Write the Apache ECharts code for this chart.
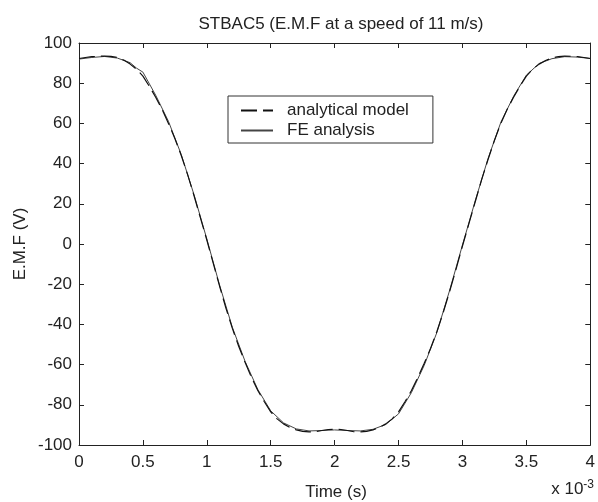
<!DOCTYPE html>
<html>
<head>
<meta charset="utf-8">
<script src="https://cdn.jsdelivr.net/npm/echarts@6/dist/echarts.min.js"></script>
<style>
html,body{margin:0;padding:0;background:#fff;}
#chart{width:598px;height:502px;}
</style>
</head>
<body>
<div id="chart"></div>
<script>
// Time in units of 1e-3 s
var timeA = [0,0.05,0.1,0.15,0.2,0.25,0.3,0.35,0.4,0.45,0.5,0.55,0.6,0.65,0.7,0.75,0.8,0.85,0.9,0.95,1,1.05,1.1,1.15,1.2,1.25,1.3,1.35,1.4,1.45,1.5,1.55,1.6,1.65,1.7,1.75,1.8,1.85,1.9,1.95,2,2.05,2.1,2.15,2.2,2.25,2.3,2.35,2.4,2.45,2.5,2.55,2.6,2.65,2.7,2.75,2.8,2.85,2.9,2.95,3,3.05,3.1,3.15,3.2,3.25,3.3,3.35,3.4,3.45,3.5,3.55,3.6,3.65,3.7,3.75,3.8,3.85,3.9,3.95,4];
var analytical = [92.3,92.8,93.2,93.4,93.5,93.3,92.8,91.5,89.5,87,83.5,78.5,73,67,60,52.5,44,34.5,24,13,2,-9.5,-21,-32,-42,-51,-59,-66.5,-73,-78.5,-83.5,-87,-89.5,-91.3,-92.5,-93.2,-93.5,-93.4,-92.8,-92.3,-92.2,-92.3,-92.8,-93.4,-93.5,-93.2,-92.5,-91.3,-89.5,-87,-83.5,-78.5,-73,-66.5,-59.5,-52,-43.5,-34,-23.5,-12.5,-1,10,21,32,42,51.5,60,67,73,78.5,83.5,87,89.5,91.3,92.5,93.2,93.5,93.4,93.2,92.8,92.3];
var timeFE = [0,0.1,0.2,0.3,0.4,0.45,0.5,0.6,0.7,0.8,0.9,1,1.1,1.2,1.3,1.4,1.5,1.6,1.7,1.8,1.9,2,2.1,2.2,2.3,2.4,2.5,2.6,2.7,2.8,2.9,3,3.1,3.2,3.3,3.4,3.5,3.6,3.7,3.8,3.9,4];
var feAnalysis = [92,92.8,93.3,92.5,90.2,87.5,85.5,74,61,44.5,24.5,2.5,-20.5,-41.5,-58.5,-72.5,-83,-89,-92,-93,-92.8,-92.5,-92.8,-93,-92.2,-89.8,-84.5,-74,-60.5,-44,-23,-0.5,21.5,42.5,60.5,73.5,84,89.8,92.2,93.2,93,92.3];
var seriesNames = ['analytical model','FE analysis'];
var titleText = 'STBAC5 (E.M.F at a speed of 11 m/s)';

function pairs(xs, ys){ var out=[]; for(var i=0;i<xs.length;i++){ out.push([xs[i], ys[i]]); } return out; }

var FONT = 'Liberation Sans, Arial, sans-serif';
var FS = 17;
var chart = echarts.init(document.getElementById('chart'));
var axisCommon = {
  axisLine:{show:true, onZero:false, lineStyle:{color:'#222', width:1}},
  axisTick:{show:true, inside:true, length:5, lineStyle:{color:'#222'}},
  splitLine:{show:false}
};
chart.setOption({
  backgroundColor:'#fff',
  animation:false,
  title:{text:titleText, left:336, textAlign:'center', top:11,
    textStyle:{fontFamily:FONT, fontWeight:'normal', fontSize:FS, color:'#222'}},
  grid:{left:79, right:5, top:43, bottom:57},
  legend:{
    left:228, top:96, orient:'vertical',
    data:seriesNames,
    itemWidth:32, itemHeight:12, itemGap:3,
    padding:[6,24,4,12],
    borderColor:'#333', borderWidth:1, backgroundColor:'#fff',
    itemStyle:{color:'rgba(0,0,0,0)', borderColor:'rgba(0,0,0,0)', borderWidth:0},
    textStyle:{fontFamily:FONT, fontSize:FS, color:'#222', lineHeight:17, padding:[0,0,0,9]}
  },
  xAxis:[
    Object.assign({type:'value', min:0, max:4, interval:0.5, position:'bottom',
      axisLabel:{fontFamily:FONT, fontSize:FS, color:'#222', margin:9}}, axisCommon),
    Object.assign({type:'value', min:0, max:4, interval:0.5, position:'top',
      axisLabel:{show:false}}, axisCommon)
  ],
  yAxis:[
    Object.assign({type:'value', min:-100, max:100, interval:20, position:'left',
      axisLabel:{fontFamily:FONT, fontSize:FS, color:'#222', margin:7}}, axisCommon),
    Object.assign({type:'value', min:-100, max:100, interval:20, position:'right',
      axisLabel:{show:false}}, axisCommon)
  ],
  graphic:[
    {type:'text', x:336, y:492, style:{text:'Time (s)', font:FS+'px '+FONT, fill:'#222', align:'center', verticalAlign:'middle'}},
    {type:'text', right:4, top:479, style:{rich:{a:{fontFamily:FONT, fontSize:FS, fill:'#222', padding:[9,0,0,0]}, b:{fontFamily:FONT, fontSize:12, fill:'#222'}}, text:'{a|x 10}{b|-3}'}},
    {type:'text', x:20, y:244, rotation:Math.PI/2, style:{text:'E.M.F (V)', font:FS+'px '+FONT, fill:'#222', align:'center', verticalAlign:'middle'}}
  ],
  series:[
    {name:seriesNames[0], type:'line', data:pairs(timeA, analytical), symbol:'none', smooth:false,
      lineStyle:{color:'#111', width:1.2, type:[16,6]}, itemStyle:{color:'#111'}, z:3},
    {name:seriesNames[1], type:'line', data:pairs(timeFE, feAnalysis), symbol:'none', smooth:false,
      lineStyle:{color:'#444', width:1}, itemStyle:{color:'#444'}, z:2}
  ]
});
</script>
</body>
</html>
